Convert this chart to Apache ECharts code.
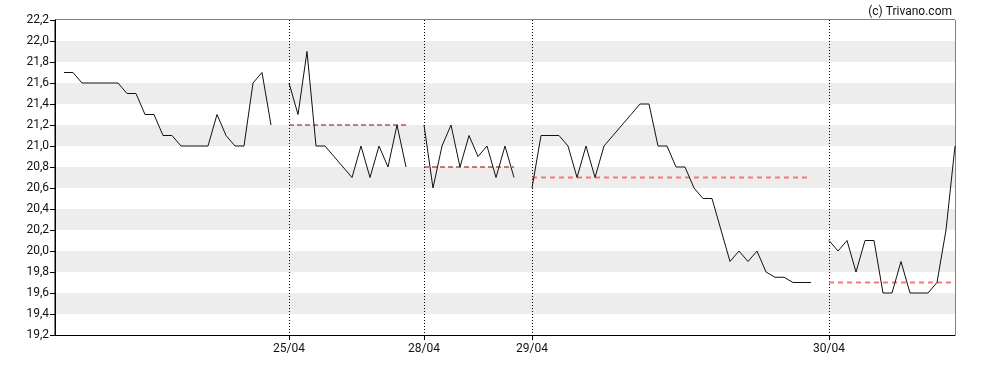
<!DOCTYPE html>
<html>
<head>
<meta charset="utf-8">
<script src="https://cdn.jsdelivr.net/npm/echarts@6/dist/echarts.min.js"></script>
<style>html,body{margin:0;padding:0;background:#fff}#c{width:988px;height:370px}</style>
</head>
<body>
<div id="c"></div>
<script>
// Price values per trading day (intraday points)
const day24 = [21.7,21.7,21.6,21.6,21.6,21.6,21.6,21.5,21.5,21.3,21.3,21.1,21.1,21.0,21.0,21.0,21.0,21.3,21.1,21.0,21.0,21.6,21.7,21.2];
const day25 = [21.6,21.3,21.9,21.0,21.0,20.9,20.8,20.7,21.0,20.7,21.0,20.8,21.2,20.8];
const day28 = [21.2,20.6,21.0,21.2,20.8,21.1,20.9,21.0,20.7,21.0,20.7];
const day29 = [20.6,21.1,21.1,21.1,21.0,20.7,21.0,20.7,21.0,21.1,21.2,21.3,21.4,21.4,21.0,21.0,20.8,20.8,20.6,20.5,20.5,20.2,19.9,20.0,19.9,20.0,19.8,19.75,19.75,19.7,19.7,19.7];
const day30 = [20.1,20.0,20.1,19.8,20.1,20.1,19.6,19.6,19.9,19.6,19.6,19.6,19.7,20.2,21.0];
const dayLabels = ['', '25/04', '28/04', '29/04', '30/04'];
const refLevels = [null, 21.2, 20.8, 20.7, 19.7];
const yTicks = [19.2, 22.2, 0.2]; // min, max, step

const segments = [day24, day25, day28, day29, day30];
const categories = [''];
const priceData = [null];
const segRanges = [];
segments.forEach((seg, i) => {
  if (i > 0) { categories.push(''); priceData.push(null); }
  const start = categories.length;
  seg.forEach((v, j) => {
    categories.push(j === 0 ? dayLabels[i] : '');
    priceData.push(v);
  });
  segRanges.push([start, categories.length - 1]);
});

const refStyles = [null,
  {color: '#8a0000', width: 1, type: [5, 3]},
  {color: '#8a0000', width: 1, type: [5, 3]},
  {color: '#f87878', width: 2, type: [5, 4]},
  {color: '#f87878', width: 2, type: [5, 4]}];

const refSeries = [];
refLevels.forEach((lvl, i) => {
  if (lvl == null) return;
  const d = categories.map((c, k) => (k >= segRanges[i][0] && k <= segRanges[i][1]) ? lvl : null);
  refSeries.push({
    type: 'line', data: d, symbol: 'none', silent: true, z: 1,
    lineStyle: refStyles[i], connectNulls: false, animation: false
  });
});

const isLabel = (idx, val) => val !== '';
const chart = echarts.init(document.getElementById('c'));
chart.setOption({
  animation: false,
  title: {
    text: '(c) Trivano.com', right: 31, top: 1,
    textStyle: {fontFamily: 'Roboto', fontSize: 12, fontWeight: 'normal', color: '#111'}
  },
  grid: {left: 55, right: 33, top: 20, bottom: 35, show: true, borderColor: '#000', borderWidth: 1, backgroundColor: 'transparent'},
  xAxis: {
    type: 'category', data: categories, boundaryGap: false,
    axisLine: {lineStyle: {color: '#000', width: 1}},
    axisTick: {show: true, interval: isLabel, length: 5, lineStyle: {color: '#000'}},
    axisLabel: {interval: isLabel, color: '#111', fontFamily: 'Roboto', fontSize: 12, margin: 8},
    splitLine: {show: true, interval: isLabel, lineStyle: {color: '#000', type: [1, 2], width: 1}}
  },
  yAxis: {
    type: 'value', min: yTicks[0], max: yTicks[1], interval: yTicks[2],
    axisLine: {show: true, lineStyle: {color: '#000', width: 1}},
    axisTick: {show: true, length: 5, lineStyle: {color: '#000'}},
    axisLabel: {color: '#111', fontFamily: 'Roboto', fontSize: 12, margin: 6,
      formatter: v => v.toFixed(1).replace('.', ',')},
    splitLine: {show: false},
    splitArea: {show: true, areaStyle: {color: ['#ffffff', '#ededed']}}
  },
  series: [
    ...refSeries,
    {type: 'line', data: priceData, symbol: 'none', connectNulls: false, z: 3,
     lineStyle: {color: '#111', width: 1}}
  ]
});
</script>
</body>
</html>
